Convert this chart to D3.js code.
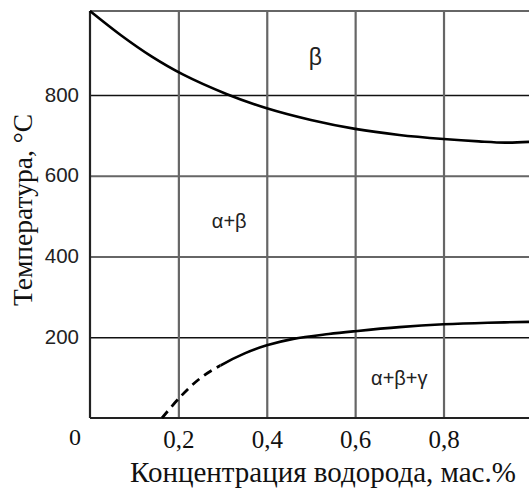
<!DOCTYPE html>
<html><head><meta charset="utf-8">
<script src="https://cdn.jsdelivr.net/npm/d3@7/dist/d3.min.js"></script>
<style>
html,body{margin:0;padding:0;background:#fff;}
svg{display:block;}
</style></head>
<body>
<script>
// ---- data ----
const xTicks = [0.2, 0.4, 0.6, 0.8];
const xTickLabels = ["0,2", "0,4", "0,6", "0,8"];
const yTicks = [200, 400, 600, 800];
const yTickLabels = ["200", "400", "600", "800"];
const upperX = [0, 0.07, 0.14, 0.21, 0.31, 0.40, 0.50, 0.60, 0.70, 0.80, 0.88, 0.94, 0.995];
const upperT = [1008, 948, 895, 851, 802, 767, 738, 716, 701, 691, 685, 682, 684];
const lowerX = [0.163, 0.204, 0.249, 0.295, 0.35, 0.40, 0.46, 0.54, 0.60, 0.70, 0.80, 0.90, 0.995];
const lowerT = [0, 52, 98, 130, 160, 180, 196, 208, 215, 225, 232, 236, 238];
const dashedUntil = 0.295;   // lower curve is dashed below this concentration
const phaseLabels = ["β", "α+β", "α+β+γ"];
const phaseX = [0.51, 0.315, 0.70];
const phaseT = [874, 470, 82];
const xTitle = "Концентрация водорода, мас.%";
const yTitle = "Температура, °C";

// ---- layout ----
const W = 529, H = 489;
const mLeft = 90, mTop = 11, mBottom = 418, mRight = W;
const x = d3.scaleLinear().domain([0, 1]).range([mLeft, mLeft + 441.9]);
const y = d3.scaleLinear().domain([0, 1008]).range([mBottom, mTop]);

const svg = d3.select("body").append("svg").attr("width", W).attr("height", H);

// clip paths for dashed / solid parts of the lower curve
const defs = svg.append("defs");
defs.append("clipPath").attr("id", "clipDash").append("rect")
  .attr("x", 0).attr("y", 0).attr("width", x(dashedUntil)).attr("height", H);
defs.append("clipPath").attr("id", "clipSolid").append("rect")
  .attr("x", x(dashedUntil)).attr("y", 0).attr("width", W).attr("height", H);

// horizontal gridlines via axis
const yAxis = d3.axisLeft(y).tickValues(yTicks)
  .tickFormat((d, i) => yTickLabels[i])
  .tickSize(-(mRight - mLeft)).tickPadding(10);
const gy = svg.append("g").attr("transform", `translate(${mLeft},0)`).call(yAxis);
gy.select(".domain").remove();
gy.selectAll(".tick line")
  .attr("stroke", d => (d === 800 || d === 200) ? "#111" : "#666")
  .attr("stroke-width", d => (d === 800 || d === 200) ? 1.6 : 2.2);
gy.selectAll(".tick text")
  .attr("font-family", "'Liberation Sans', Arial, sans-serif")
  .attr("font-size", 20.5).attr("fill", "#222").attr("x", -11).attr("dy", "0.3em");

// vertical gridlines via axis
const xAxis = d3.axisBottom(x).tickValues(xTicks)
  .tickFormat((d, i) => xTickLabels[i])
  .tickSize(-(mBottom - mTop)).tickPadding(16);
const gx = svg.append("g").attr("transform", `translate(0,${mBottom})`).call(xAxis);
gx.select(".domain").remove();
gx.selectAll(".tick line").attr("stroke", "#666").attr("stroke-width", 2.2);
gx.selectAll(".tick text")
  .attr("font-family", "'Liberation Serif', 'Times New Roman', serif")
  .attr("font-size", 25).attr("fill", "#111").attr("dy", "0.55em");

// frame
svg.append("line").attr("x1", mLeft).attr("x2", mRight).attr("y1", y(1008)).attr("y2", y(1008))
  .attr("stroke", "#666").attr("stroke-width", 2.2);
svg.append("line").attr("x1", mLeft).attr("x2", mRight).attr("y1", y(0)).attr("y2", y(0))
  .attr("stroke", "#222").attr("stroke-width", 2.2);
svg.append("line").attr("x1", x(0)).attr("x2", x(0)).attr("y1", y(1008)).attr("y2", y(0))
  .attr("stroke", "#222").attr("stroke-width", 2.2);

// origin label
svg.append("text").attr("x", x(0) - 15).attr("y", 445).attr("text-anchor", "middle")
  .attr("font-family", "'Liberation Serif', serif").attr("font-size", 24).attr("fill", "#111").text("0");

// curves
const line = d3.line().x(d => x(d[0])).y(d => y(d[1])).curve(d3.curveCatmullRom.alpha(0.5));
svg.append("path").datum(upperX.map((v, i) => [v, upperT[i]]))
  .attr("d", line).attr("fill", "none").attr("stroke", "#000").attr("stroke-width", 2.6);
const lowerData = lowerX.map((v, i) => [v, lowerT[i]]);
svg.append("path").datum(lowerData).attr("clip-path", "url(#clipSolid)")
  .attr("d", line).attr("fill", "none").attr("stroke", "#000").attr("stroke-width", 2.6);
svg.append("path").datum(lowerData).attr("clip-path", "url(#clipDash)")
  .attr("d", line).attr("fill", "none").attr("stroke", "#000").attr("stroke-width", 2.8)
  .attr("stroke-dasharray", "9,6");

// phase labels
svg.selectAll("text.phase").data(phaseLabels).enter().append("text").attr("class", "phase")
  .attr("x", (d, i) => x(phaseX[i])).attr("y", (d, i) => y(phaseT[i]))
  .attr("text-anchor", "middle")
  .attr("font-family", "'Liberation Sans', Arial, sans-serif")
  .attr("font-size", (d, i) => i === 0 ? 23 : 20)
  .attr("fill", "#222").text(d => d);

// titles
svg.append("text").attr("x", 130).attr("y", 482)
  .attr("font-family", "'Liberation Serif', 'Times New Roman', serif").attr("font-size", 29)
  .attr("fill", "#111").text(xTitle);
svg.append("text").attr("transform", "translate(32,210) rotate(-90)").attr("text-anchor", "middle")
  .attr("font-family", "'Liberation Serif', 'Times New Roman', serif").attr("font-size", 27.5)
  .attr("fill", "#111").text(yTitle);
</script>
</body></html>
